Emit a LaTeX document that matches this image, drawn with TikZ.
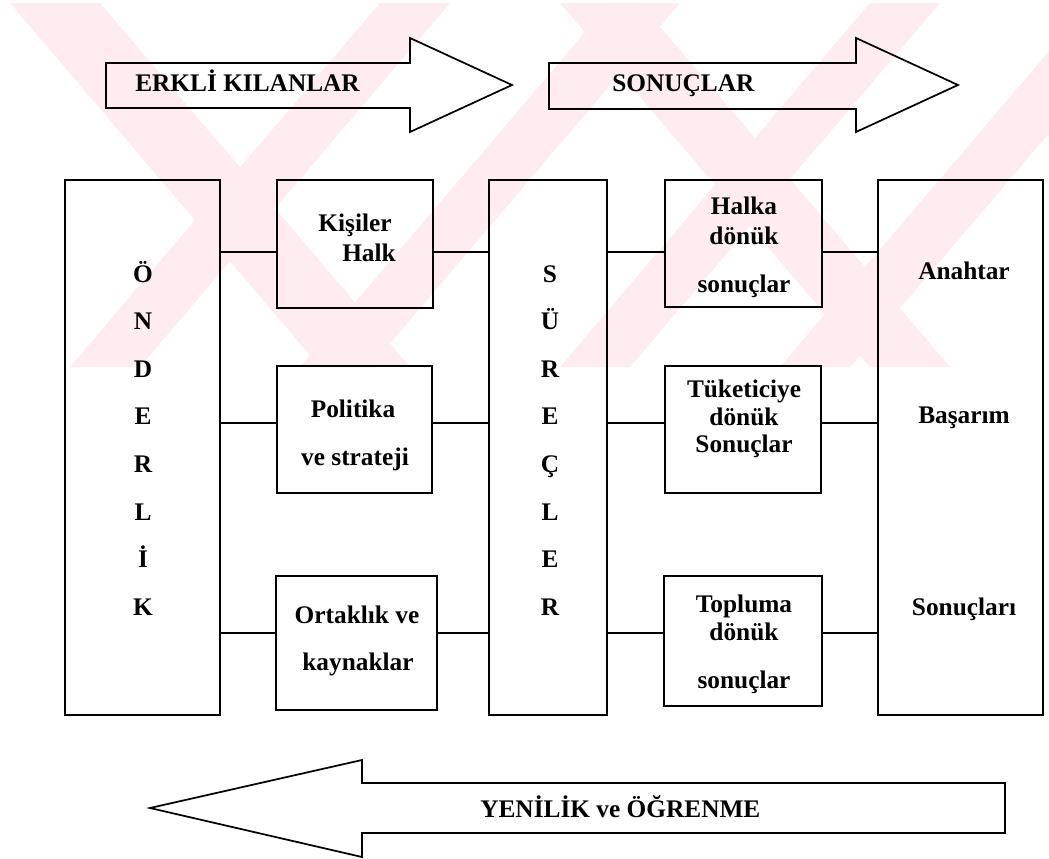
\documentclass[tikz,border=0pt]{standalone}
\usepackage{fontspec}
\setmainfont{Liberation Serif}
\definecolor{wmpink}{RGB}{254,236,240}
\tikzset{
  box/.style={draw, line width=1.4pt, inner sep=0pt, outer sep=0pt},
  link/.style={line width=1.3pt},
  bigarrow/.style={draw, line width=1.3pt, line join=miter},
  lbl/.style={font=\fontsize{19}{23}\selectfont\bfseries, inner sep=0pt, anchor=base},
  wm/.style={fill=wmpink, draw=none}
}
% box from its corner coordinates (x1,y1) to (x2,y2), in pixels
\newcommand{\mkbox}[5]{%
  \node[box, minimum width={(#4-#2)*0.75pt}, minimum height={(#5-#3)*0.75pt}]
    (#1) at ({(#2+#4)/2},{(#3+#5)/2}) {};}
\begin{document}
\begin{tikzpicture}[x=0.75pt,y=-0.75pt]
\useasboundingbox (0,0) rectangle (1049,859);

% faint background stripes
\begin{scope}
  \clip (0,3) rectangle (1049,367);
  \fill[wm] (10,3) -- (100,3) -- (410,367) -- (320,367) -- cycle;
  \fill[wm] (560,3) -- (640,3) -- (950,367) -- (870,367) -- cycle;
  \fill[wm] (70,367) -- (140,367) -- (450,3) -- (380,3) -- cycle;
  \fill[wm] (300,367) -- (370,367) -- (680,3) -- (610,3) -- cycle;
  \fill[wm] (560,367) -- (630,367) -- (940,3) -- (870,3) -- cycle;
  \fill[wm] (780,367) -- (850,367) -- (1160,3) -- (1090,3) -- cycle;
\end{scope}

% top and bottom block arrows
\draw[bigarrow] (106,63) -- (410,63) -- (410,38) -- (512,85) -- (410,132)
  -- (410,108) -- (106,108) -- cycle;
\node[lbl, anchor=base west] (erk) at (135,92) {ERKLİ KILANLAR};
\draw[bigarrow] (549,63) -- (856,63) -- (856,38) -- (958,85) -- (856,132)
  -- (856,109) -- (549,109) -- cycle;
\node[lbl, anchor=base west] (son) at (612,92) {SONUÇLAR};
\draw[bigarrow] (150,808) -- (362,760) -- (362,783) -- (1005,783) -- (1005,833)
  -- (362,833) -- (362,857) -- cycle;
\node[lbl, anchor=base west] (yen) at (480,817) {YENİLİK ve ÖĞRENME};

% boxes
\mkbox{ond}{65}{180}{220}{715}
\mkbox{kis}{277}{180}{433}{308}
\mkbox{pol}{277}{366}{432}{493}
\mkbox{ort}{276}{576}{437}{710}
\mkbox{sur}{489}{180}{607}{715}
\mkbox{hal}{665}{180}{822}{307}
\mkbox{tuk}{665}{366}{821}{493}
\mkbox{topl}{664}{576}{822}{706}
\mkbox{snc}{878}{180}{1043}{715}

% connector rows
\coordinate (r1) at (0,252);
\coordinate (r2) at (0,423);
\coordinate (r3) at (0,633);
\foreach \r/\a/\b in {r1/kis/hal, r2/pol/tuk, r3/ort/topl}{
  \draw[link] (ond.east |- \r) -- (\a.west |- \r);
  \draw[link] (\a.east |- \r) -- (sur.west |- \r);
  \draw[link] (sur.east |- \r) -- (\b.west |- \r);
  \draw[link] (\b.east |- \r) -- (snc.west |- \r);
}

% vertical words
\foreach \c [count=\i from 0] in {Ö,N,D,E,R,L,İ,K}
  \node[lbl] (ondl\i) at (143,{282+47.6*\i}) {\c};
\foreach \c [count=\i from 0] in {S,Ü,R,E,Ç,L,E,R}
  \node[lbl] (surl\i) at (550,{282+47.6*\i}) {\c};

% texts of the small boxes
\node[lbl] (t1a) at (355,232) {Kişiler};
\node[lbl] (t1b) at (369,262) {Halk};
\node[lbl] (t2a) at (353,417) {Politika};
\node[lbl] (t2b) at (355,465) {ve strateji};
\node[lbl] (t3a) at (357,623) {Ortaklık ve};
\node[lbl] (t3b) at (358,670) {kaynaklar};

\node[lbl] (h1) at (744,215) {Halka};
\node[lbl] (h2) at (744,245) {dönük};
\node[lbl] (h3) at (744,292) {sonuçlar};
\node[lbl] (k1) at (744,397) {Tüketiciye};
\node[lbl] (k2) at (744,425) {dönük};
\node[lbl] (k3) at (744,452) {Sonuçlar};
\node[lbl] (p1) at (744,612) {Topluma};
\node[lbl] (p2) at (744,640) {dönük};
\node[lbl] (p3) at (744,688) {sonuçlar};

% texts of the right column
\node[lbl] (s1) at (964,280) {Anahtar};
\node[lbl] (s2) at (964,423) {Başarım};
\node[lbl] (s3) at (964,615) {Sonuçları};
\end{tikzpicture}
\end{document}
